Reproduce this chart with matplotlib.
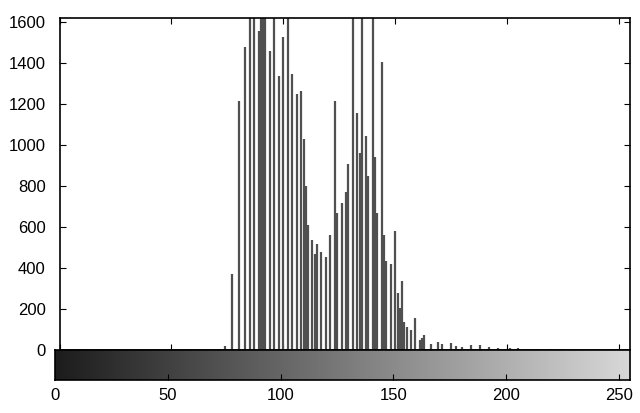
import numpy as np
import matplotlib
matplotlib.use("Agg")
import matplotlib.pyplot as plt
from matplotlib.colors import LinearSegmentedColormap

plt.rcParams['font.family'] = ['Liberation Sans', 'DejaVu Sans']

# gray levels (x) and pixel counts (y)
levels = [74, 77, 80, 83, 85, 87, 89, 90, 91, 92, 94, 96, 98, 100, 102,
          104, 106, 108, 109, 110, 111, 113, 114, 115, 117, 119, 121, 123,
          124, 126, 128, 129, 131, 133, 134, 135, 137, 138, 140, 141, 142,
          144, 145, 146, 148, 150, 151, 152, 153, 154, 155, 157, 159, 161,
          162, 163, 166, 169, 171, 175, 177, 180, 184, 188, 192, 196, 201,
          205, 209, 214, 219, 224]
counts = [20, 370, 1215, 1480, 2100, 1900, 1555, 2000, 1800, 2300, 1460,
          1950, 1340, 1530, 2200, 1350, 1250, 1265, 1030, 800, 610, 540,
          470, 520, 480, 455, 560, 1215, 670, 720, 770, 910, 2500, 1155,
          960, 2300, 1045, 850, 2400, 945, 670, 1405, 560, 435, 420, 580,
          280, 205, 340, 140, 115, 100, 155, 50, 60, 75, 30, 42, 29, 37,
          21, 18, 26, 24, 15, 12, 10, 9, 8, 7, 6, 5]

xticks = [0, 50, 100, 150, 200, 250]
yticks = [0, 200, 400, 600, 800, 1000, 1200, 1400, 1600]

fig = plt.figure(figsize=(6.4, 4.13), dpi=100)
ax = fig.add_axes([0.093, 0.152, 0.892, 0.804])
ax.vlines(levels, 0, counts, colors='#505050', linewidth=1.6)
ax.set_xlim(0, 255)
ax.set_ylim(0, 1620)
ax.set_yticks(yticks)
ax.set_xticks(xticks)
ax.tick_params(direction='in', top=True, right=True, labelbottom=False,
               labelsize=12, length=4, pad=10)
for s in ax.spines.values():
    s.set_linewidth(1.2)

# gray-level colour bar under the histogram
cax = fig.add_axes([0.086, 0.08, 0.899, 0.072])
cmap = LinearSegmentedColormap.from_list('scan', ['#1c1c1c', '#d8d8d8'])
grad = np.linspace(0, 1, 256)[None, :]
cax.imshow(grad, aspect='auto', cmap=cmap, extent=(0, 255, 0, 1))
cax.set_xlim(0, 255)
cax.set_yticks([])
cax.set_xticks(xticks)
cax.tick_params(direction='in', length=4, labelsize=12, pad=6)
for s in cax.spines.values():
    s.set_linewidth(1.2)

fig.savefig('out.png', dpi=100)
